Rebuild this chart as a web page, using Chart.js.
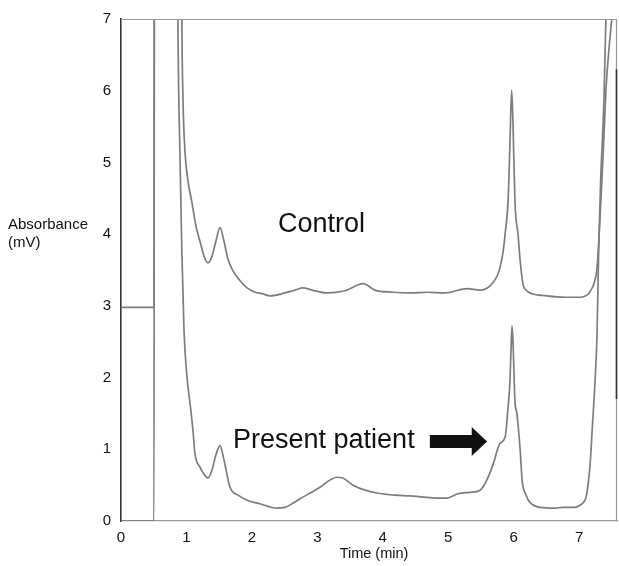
<!DOCTYPE html>
<html>
<head>
<meta charset="utf-8">
<script src="https://cdn.jsdelivr.net/npm/chart.js@4.4.1/dist/chart.umd.min.js"></script>
<style>
  html, body { margin: 0; padding: 0; background: #fff; }
  #wrap { width: 619px; height: 566px; position: relative; }
</style>
</head>
<body>
<div id="wrap"><canvas id="c" width="619" height="566"></canvas></div>
<script>
// ---- data ----
const xTicks = [0, 1, 2, 3, 4, 5, 6, 7];
const yTicks = [0, 1, 2, 3, 4, 5, 6, 7];

const controlX = [0, 0.504, 0.51, 0.925, 0.93, 0.948, 0.978, 1.024, 1.08, 1.146, 1.207, 1.27, 1.33, 1.39, 1.45, 1.513, 1.574, 1.635, 1.71, 1.82, 1.926, 2.05, 2.155, 2.277, 2.506, 2.66, 2.78, 2.92, 3.15, 3.42, 3.7, 3.88, 4.157, 4.417, 4.677, 4.95, 5.288, 5.487, 5.64, 5.75, 5.79, 5.84, 5.87, 5.915, 5.945, 5.97, 5.99, 6.02, 6.067, 6.1, 6.144, 6.19, 6.25, 6.51, 6.786, 7.015, 7.12, 7.17, 7.23, 7.275, 7.32, 7.37, 7.41, 7.46, 7.5];
const controlY = [2.98, 2.98, 8, 8, 7.0, 5.85, 5.15, 4.74, 4.46, 4.11, 3.9, 3.69, 3.6, 3.69, 3.9, 4.09, 3.9, 3.65, 3.49, 3.35, 3.25, 3.19, 3.17, 3.14, 3.18, 3.22, 3.25, 3.22, 3.18, 3.21, 3.31, 3.22, 3.19, 3.18, 3.19, 3.18, 3.24, 3.22, 3.28, 3.42, 3.53, 3.76, 4.0, 4.46, 5.29, 6.01, 5.57, 4.46, 4.0, 3.63, 3.3, 3.22, 3.18, 3.14, 3.12, 3.12, 3.15, 3.2, 3.32, 3.53, 4.22, 5.15, 5.99, 6.61, 7.0];

const patientX = [0, 0.504, 0.51, 0.865, 0.87, 0.9, 0.93, 0.963, 1.009, 1.055, 1.1, 1.13, 1.207, 1.27, 1.33, 1.39, 1.45, 1.513, 1.574, 1.666, 1.79, 1.926, 2.124, 2.384, 2.506, 2.63, 2.736, 2.89, 3.04, 3.19, 3.3, 3.39, 3.546, 3.73, 3.91, 4.19, 4.417, 4.677, 4.875, 4.98, 5.15, 5.33, 5.487, 5.59, 5.69, 5.79, 5.87, 5.915, 5.945, 5.96, 5.976, 5.99, 6.02, 6.05, 6.1, 6.13, 6.19, 6.25, 6.4, 6.63, 6.75, 6.93, 7.015, 7.09, 7.12, 7.17, 7.2, 7.245, 7.275, 7.3, 7.33, 7.38, 7.41];
const patientY = [0, 0, 8, 8, 7.0, 5.15, 3.76, 2.65, 2.0, 1.64, 1.26, 0.94, 0.75, 0.65, 0.6, 0.71, 0.92, 1.05, 0.85, 0.47, 0.36, 0.29, 0.24, 0.18, 0.19, 0.25, 0.31, 0.39, 0.47, 0.57, 0.61, 0.6, 0.5, 0.43, 0.39, 0.36, 0.35, 0.33, 0.32, 0.32, 0.38, 0.4, 0.43, 0.57, 0.8, 1.08, 1.17, 1.58, 1.96, 2.38, 2.72, 2.51, 1.68, 1.5, 0.99, 0.57, 0.36, 0.26, 0.19, 0.18, 0.19, 0.19, 0.22, 0.29, 0.39, 0.8, 1.26, 1.96, 2.61, 3.76, 4.74, 5.85, 7.0];

const controlLabel = 'Control';
const patientLabel = 'Present patient';
const xTitle = 'Time (min)';
const yTitle = ['Absorbance', '(mV)'];

const zip = (xs, ys) => xs.map((x, i) => ({ x: x, y: ys[i] }));

const FONT = '"Liberation Sans", Arial, sans-serif';

const annot = {
  id: 'annot',
  afterDraw(chart) {
    const ctx = chart.ctx;
    const xs = chart.scales.x, ys = chart.scales.y;
    const a = chart.chartArea;
    ctx.save();
    // frame top & right
    ctx.strokeStyle = '#9a9a9a';
    ctx.lineWidth = 1.2;
    ctx.beginPath();
    ctx.moveTo(a.left, a.top + 0.5);
    ctx.lineTo(a.right - 0.5, a.top + 0.5);
    ctx.lineTo(a.right - 0.5, a.bottom);
    ctx.stroke();
    ctx.strokeStyle = '#333';
    ctx.lineWidth = 1.6;
    ctx.beginPath();
    ctx.moveTo(a.right - 0.5, ys.getPixelForValue(6.3));
    ctx.lineTo(a.right - 0.5, ys.getPixelForValue(1.7));
    ctx.stroke();

    ctx.fillStyle = '#111';
    ctx.textBaseline = 'middle';
    // texts in plot
    ctx.font = '27px ' + FONT;
    ctx.textAlign = 'center';
    ctx.fillText(controlLabel, xs.getPixelForValue(3.065), ys.getPixelForValue(4.14));
    ctx.textAlign = 'left';
    ctx.fillText(patientLabel, xs.getPixelForValue(1.712), ys.getPixelForValue(1.125));

    // arrow
    const yc = ys.getPixelForValue(1.11);
    const x0 = xs.getPixelForValue(4.72), x1 = xs.getPixelForValue(5.36), x2 = xs.getPixelForValue(5.594);
    ctx.beginPath();
    ctx.moveTo(x0, yc - 6.5);
    ctx.lineTo(x1, yc - 6.5);
    ctx.lineTo(x1, yc - 14.5);
    ctx.lineTo(x2, yc);
    ctx.lineTo(x1, yc + 14.5);
    ctx.lineTo(x1, yc + 6.5);
    ctx.lineTo(x0, yc + 6.5);
    ctx.closePath();
    ctx.fill();

    // axis titles
    ctx.font = '14.5px ' + FONT;
    ctx.textAlign = 'center';
    ctx.fillText(xTitle, 374, 554);
    ctx.textAlign = 'left';
    ctx.font = '15px ' + FONT;
    ctx.fillText(yTitle[0], 8, 225);
    ctx.fillText(yTitle[1], 8, 243);
    ctx.restore();
  }
};

new Chart(document.getElementById('c'), {
  type: 'line',
  data: {
    datasets: [
      { label: controlLabel, data: zip(controlX, controlY), borderColor: '#7d7d7d', borderWidth: 1.7, pointRadius: 0, cubicInterpolationMode: 'monotone', fill: false },
      { label: patientLabel, data: zip(patientX, patientY), borderColor: '#7d7d7d', borderWidth: 1.7, pointRadius: 0, cubicInterpolationMode: 'monotone', fill: false }
    ]
  },
  options: {
    responsive: false,
    animation: false,
    devicePixelRatio: 1,
    layout: { padding: { top: 17, right: 2, left: 0, bottom: 0 } },
    plugins: { legend: { display: false }, tooltip: { enabled: false }, title: { display: false } },
    scales: {
      x: {
        type: 'linear',
        min: 0, max: 7.58,
        afterBuildTicks: (s) => { s.ticks = xTicks.map(v => ({ value: v })); },
        afterFit: (s) => { s.height = 45; },
        grid: { display: false, drawTicks: false },
        border: { display: true, color: '#999', width: 1.2 },
        ticks: { color: '#111', font: { family: FONT, size: 15 }, padding: 8, maxRotation: 0, autoSkip: false }
      },
      y: {
        type: 'linear',
        min: 0, max: 7,
        afterBuildTicks: (s) => { s.ticks = yTicks.map(v => ({ value: v })); },
        afterFit: (s) => { s.width = 121; },
        grid: { display: false, drawTicks: false },
        border: { display: true, color: '#333', width: 1.6 },
        ticks: { color: '#111', font: { family: FONT, size: 15 }, padding: 10 }
      }
    }
  },
  plugins: [annot]
});
</script>
</body>
</html>
